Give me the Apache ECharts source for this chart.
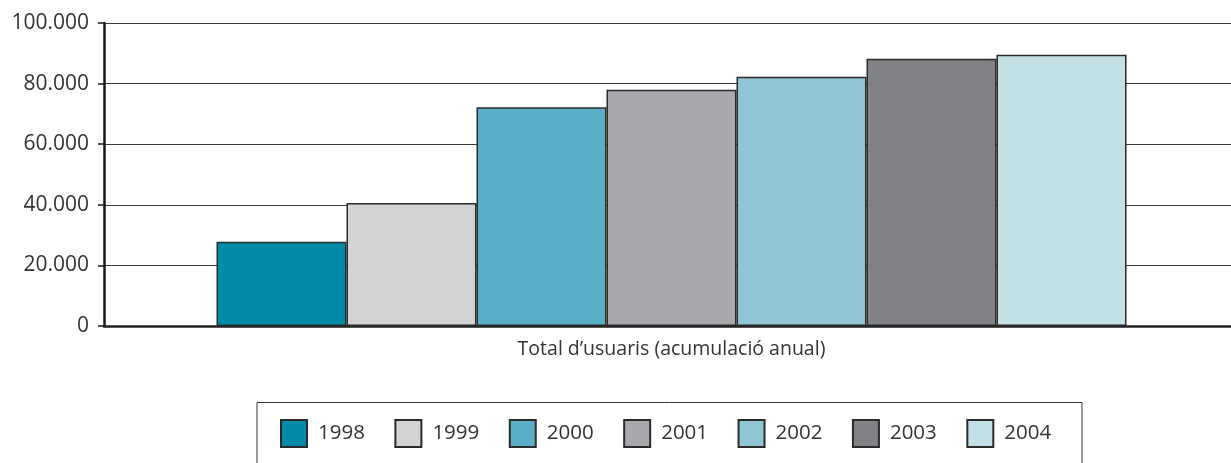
<!DOCTYPE html>
<html>
<head>
<meta charset="utf-8">
<script src="https://cdn.jsdelivr.net/npm/echarts@6/dist/echarts.min.js"></script>
<style>html,body{margin:0;padding:0;background:#fff;}#c{width:1231px;height:463px;}</style>
</head>
<body>
<div id="c"></div>
<script>
const categories = ["Total d\u2019usuaris (acumulaci\u00f3 anual)"];
const years = ["1998", "1999", "2000", "2001", "2002", "2003", "2004"];
const values = [27800, 40600, 72200, 78000, 82300, 88200, 89500];
const colors = ["#008ba8", "#d1d3d4", "#5aafc7", "#a7a9ac", "#8fc5d5", "#808285", "#c3e0e7"];
const yTicks = { min: 0, max: 100000, interval: 20000 };

const FONT = "Open Sans";
const chart = echarts.init(document.getElementById('c'), null, { renderer: 'canvas' });

const series = years.map((y, i) => ({
  name: y,
  type: 'bar',
  data: [values[i]],
  barWidth: 130,
  barGap: '0%',
  itemStyle: { color: colors[i], borderColor: '#2b2b2b', borderWidth: 1.5 },
  emphasis: { disabled: true },
  animation: false
}));

chart.setOption({
  animation: false,
  textStyle: { fontFamily: FONT },
  grid: { left: 104, right: -8, top: 23, bottom: 137, containLabel: false, outerBoundsMode: 'none' },
  xAxis: {
    type: 'category',
    data: categories,
    axisLine: { show: true, lineStyle: { color: '#222', width: 2.5 } },
    axisTick: { show: false },
    axisLabel: { color: '#333', fontSize: 19.5, margin: 13, fontFamily: FONT }
  },
  yAxis: {
    type: 'value',
    min: yTicks.min, max: yTicks.max, interval: yTicks.interval,
    axisLine: { show: true, lineStyle: { color: '#1a1a1a', width: 2.5 } },
    axisTick: { show: true, length: 6, lineStyle: { color: '#1a1a1a', width: 1.5 } },
    splitLine: { show: true, lineStyle: { color: '#3a3a3a', width: 1 } },
    axisLabel: {
      color: '#333', fontSize: 21, margin: 15, fontFamily: FONT,
      formatter: v => v === 0 ? '0' : String(v).replace(/\B(?=(\d{3})+(?!\d))/g, '.')
    }
  },
  legend: {
    data: years,
    left: 280, top: 419,
    padding: 0,
    icon: 'rect',
    itemWidth: 26, itemHeight: 27,
    itemGap: 29.5,
    textStyle: { color: '#333', fontSize: 20.5, fontFamily: FONT, padding: [0, 0, 0, 6] }
  },
  graphic: [{
    type: 'rect',
    shape: { x: 257, y: 402.5, width: 825, height: 80 },
    style: { fill: 'none', stroke: '#333', lineWidth: 1 },
    silent: true
  }],
  series: series
});
</script>
</body>
</html>
